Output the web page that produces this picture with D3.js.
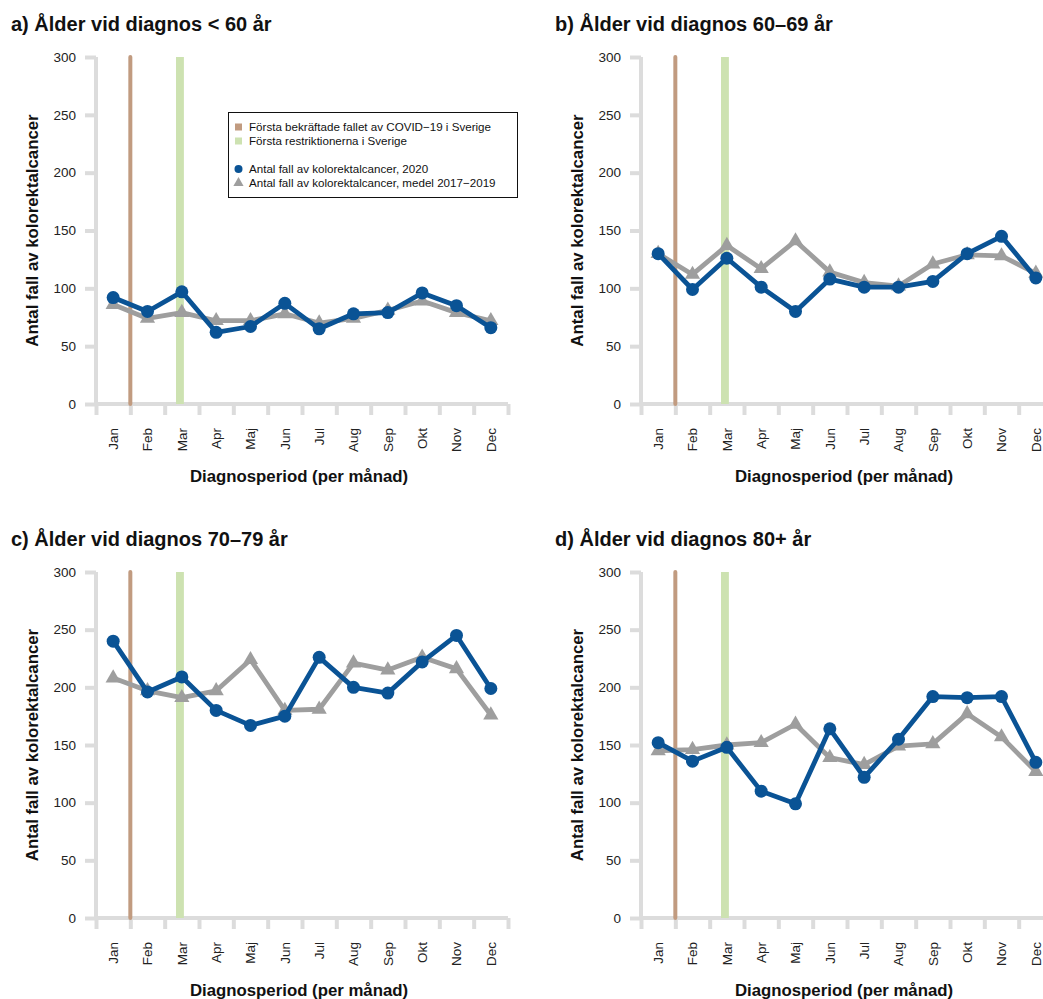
<!DOCTYPE html>
<html>
<head>
<meta charset="utf-8">
<script src="https://cdn.jsdelivr.net/npm/d3@7"></script>
<style>
  html, body { margin: 0; padding: 0; background: #ffffff; }
  svg { display: block; font-family: "Liberation Sans", Arial, Helvetica, sans-serif; }
</style>
</head>
<body>
<svg id="chart" width="1043" height="999"></svg>
<script>
// Månader (x-axel)
const months = ["Jan", "Feb", "Mar", "Apr", "Maj", "Jun", "Jul", "Aug", "Sep", "Okt", "Nov", "Dec"];
const yTicks = [0, 50, 100, 150, 200, 250, 300];

// Åldersgrupper
const panelTitles = [
  "a) Ålder vid diagnos < 60 år",
  "b) Ålder vid diagnos 60–69 år",
  "c) Ålder vid diagnos 70–79 år",
  "d) Ålder vid diagnos 80+ år"
];

// Antal fall av kolorektalcancer 2020, per månad
const cases2020_u60   = [92, 80, 97, 62, 67, 87, 65, 78, 79, 96, 85, 66];
const cases2020_60_69 = [130, 99, 126, 101, 80, 108, 101, 101, 106, 130, 145, 109];
const cases2020_70_79 = [240, 196, 209, 180, 167, 175, 226, 200, 195, 222, 245, 199];
const cases2020_80p   = [152, 136, 148, 110, 99, 164, 122, 155, 192, 191, 192, 135];

// Medelantal fall 2017–2019, per månad
const mean1719_u60   = [86, 74, 79, 72, 72, 78, 70, 74, 81, 89, 79, 72];
const mean1719_60_69 = [130, 112, 137, 117, 141, 114, 105, 102, 121, 129, 128, 113];
const mean1719_70_79 = [208, 197, 191, 197, 224, 180, 181, 221, 215, 226, 216, 176];
const mean1719_80p   = [145, 146, 150, 152, 168, 139, 133, 149, 151, 177, 157, 127];

// Händelser, i månadsenheter (1 = mitten av januari)
const firstCaseMonth = 1.5;             // första bekräftade fallet av COVID-19
const restrictionSpan = [2.83, 3.06];   // första restriktionerna

const legendLabels = [
  "Första bekräftade fallet av COVID−19 i Sverige",
  "Första restriktionerna i Sverige",
  "Antal fall av kolorektalcancer, 2020",
  "Antal fall av kolorektalcancer, medel 2017−2019"
];

const series2020 = [cases2020_u60, cases2020_60_69, cases2020_70_79, cases2020_80p];
const seriesMean = [mean1719_u60, mean1719_60_69, mean1719_70_79, mean1719_80p];

const COL_BLUE = "#0a5395";
const COL_GREY = "#9e9e9e";
const COL_AXIS = "#dcdcdc";
const COL_BROWN = "#c19b80";
const COL_GREEN = "#cde2b1";

const svg = d3.select("#chart");

// Panelgeometri för plottytan och titelns position
const panels = [
  { x0: 96,  x1: 508,  y0: 404, y1: 57,  tx: 11,  ty: 31 },
  { x0: 641, x1: 1053, y0: 404, y1: 57,  tx: 555, ty: 31 },
  { x0: 96,  x1: 508,  y0: 918, y1: 572, tx: 11,  ty: 546 },
  { x0: 641, x1: 1053, y0: 918, y1: 572, tx: 555, ty: 546 }
];

panels.forEach((p, i) => {
  const g = svg.append("g");
  const x = d3.scaleLinear().domain([0.5, 12.5]).range([p.x0, p.x1]);
  const y = d3.scaleLinear().domain([0, 300]).range([p.y0, p.y1]);

  // Titel
  g.append("text")
    .attr("x", p.tx).attr("y", p.ty)
    .attr("font-size", 20).attr("font-weight", "bold")
    .attr("fill", "#111")
    .text(panelTitles[i]);

  // Y-axel
  const yAxis = g.append("g").attr("transform", `translate(${p.x0},0)`)
    .call(d3.axisLeft(y).tickValues(yTicks).tickSize(11).tickPadding(9).tickFormat(d3.format("d")));
  yAxis.select(".domain").remove();
  yAxis.selectAll(".tick line").attr("stroke", COL_AXIS).attr("stroke-width", 4);
  yAxis.selectAll(".tick text").attr("font-size", 13.5).attr("fill", "#222")
    .attr("font-family", "'Liberation Sans', Arial, sans-serif");
  g.append("line")
    .attr("x1", p.x0).attr("x2", p.x0)
    .attr("y1", y(0)).attr("y2", y(300))
    .attr("stroke", COL_AXIS).attr("stroke-width", 4);

  // X-axel: streck på gränserna mellan månaderna
  const bounds = d3.range(0, 13).map(k => k + 0.5);
  const xAxis = g.append("g").attr("transform", `translate(0,${p.y0})`)
    .call(d3.axisBottom(x).tickValues(bounds).tickSize(11).tickFormat(""));
  xAxis.select(".domain").remove();
  xAxis.selectAll(".tick line").attr("stroke", COL_AXIS).attr("stroke-width", 4);
  g.append("line")
    .attr("x1", x(0.5)).attr("x2", x(12.5))
    .attr("y1", p.y0).attr("y2", p.y0)
    .attr("stroke", COL_AXIS).attr("stroke-width", 4);

  // Månadsetiketter (roterade)
  g.selectAll(".mlab").data(months).enter().append("text")
    .attr("class", "mlab")
    .attr("transform", (d, k) => `translate(${x(k + 1)},${p.y0 + 24}) rotate(-90)`)
    .attr("text-anchor", "end")
    .attr("dy", "0.36em")
    .attr("font-size", 13.5)
    .attr("fill", "#222")
    .text(d => d);

  // Axeltitlar
  g.append("text")
    .attr("x", (p.x0 + x(12.5) - 6) / 2).attr("y", p.y0 + 78)
    .attr("text-anchor", "middle")
    .attr("font-size", 16.8).attr("font-weight", "bold").attr("fill", "#111")
    .text("Diagnosperiod (per månad)");
  g.append("text")
    .attr("transform", `translate(${p.x0 - 58},${(p.y0 + p.y1) / 2}) rotate(-90)`)
    .attr("text-anchor", "middle")
    .attr("font-size", 16.8).attr("font-weight", "bold").attr("fill", "#111")
    .text("Antal fall av kolorektalcancer");

  // Händelsemarkeringar
  g.append("rect")
    .attr("x", x(restrictionSpan[0])).attr("width", x(restrictionSpan[1]) - x(restrictionSpan[0]))
    .attr("y", y(300)).attr("height", y(0) - y(300))
    .attr("fill", COL_GREEN);
  g.append("line")
    .attr("x1", x(firstCaseMonth)).attr("x2", x(firstCaseMonth))
    .attr("y1", y(300)).attr("y2", y(0))
    .attr("stroke", COL_BROWN).attr("stroke-width", 4)
    .attr("stroke-linecap", "round");

  const line = d3.line().x((d, k) => x(k + 1)).y(d => y(d));

  // Medel 2017–2019
  g.append("path").datum(seriesMean[i])
    .attr("d", line).attr("fill", "none")
    .attr("stroke", COL_GREY).attr("stroke-width", 4.8).attr("stroke-linejoin", "round");
  g.selectAll(".tri").data(seriesMean[i]).enter().append("path")
    .attr("class", "tri")
    .attr("transform", (d, k) => `translate(${x(k + 1)},${y(d)})`)
    .attr("d", d3.symbol().type(d3.symbolTriangle).size(100))
    .attr("fill", COL_GREY);

  // 2020
  g.append("path").datum(series2020[i])
    .attr("d", line).attr("fill", "none")
    .attr("stroke", COL_BLUE).attr("stroke-width", 4.8).attr("stroke-linejoin", "round");
  g.selectAll(".dot").data(series2020[i]).enter().append("circle")
    .attr("class", "dot")
    .attr("cx", (d, k) => x(k + 1)).attr("cy", d => y(d))
    .attr("r", 6.5)
    .attr("fill", COL_BLUE);
});

// Teckenförklaring (i panel a)
const lg = svg.append("g");
lg.append("rect")
  .attr("x", 228.5).attr("y", 112.5).attr("width", 289).attr("height", 85)
  .attr("fill", "#fff").attr("stroke", "#111").attr("stroke-width", 1);
const rowY = [127, 141, 169, 183];
const tx = 249, mx = 238.5;
lg.append("rect").attr("x", mx - 3.5).attr("y", rowY[0] - 3.5).attr("width", 7).attr("height", 7).attr("fill", COL_BROWN);
lg.append("rect").attr("x", mx - 3.5).attr("y", rowY[1] - 3.5).attr("width", 7).attr("height", 7).attr("fill", COL_GREEN);
lg.append("circle").attr("cx", mx).attr("cy", rowY[2]).attr("r", 4).attr("fill", COL_BLUE);
lg.append("path").attr("transform", `translate(${mx},${rowY[3]})`)
  .attr("d", d3.symbol().type(d3.symbolTriangle).size(45)).attr("fill", COL_GREY);
lg.selectAll(".ltxt").data(legendLabels).enter().append("text")
  .attr("class", "ltxt")
  .attr("x", tx).attr("y", (d, k) => rowY[k])
  .attr("dy", "0.35em")
  .attr("font-size", 11.6).attr("fill", "#111")
  .text(d => d);
</script>
</body>
</html>
